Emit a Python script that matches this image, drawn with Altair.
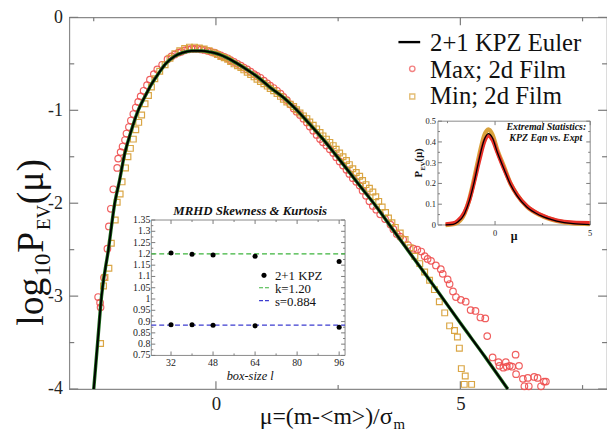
import altair as alt
import pandas as pd

# ================= DATA =================
# main panel: 2+1 KPZ Euler curve (x = mu, y = log10 P)
kpz_curve = [(-2.50, -4.0), (-2.42, -3.5), (-2.34, -3.0), (-2.20, -2.5), (-2.07, -2.0),
             (-1.97, -1.75), (-1.88, -1.5), (-1.75, -1.25), (-1.59, -1.0), (-1.45, -0.85),
             (-1.32, -0.72), (-1.17, -0.60), (-1.03, -0.50), (-0.85, -0.42), (-0.68, -0.38),
             (-0.50, -0.36), (-0.30, -0.36), (-0.10, -0.375), (0.05, -0.395), (0.30, -0.455),
             (0.57, -0.54), (0.85, -0.64), (1.10, -0.75), (1.40, -0.87), (1.65, -0.995),
             (1.92, -1.15), (2.19, -1.31), (2.45, -1.48), (2.72, -1.66), (3.00, -1.85),
             (3.27, -2.03), (3.60, -2.27), (4.00, -2.56), (4.50, -2.92), (5.00, -3.29),
             (5.50, -3.65), (5.97, -4.0)]

# Max; 2d Film (red circles)
max_points = [(-2.41, -3.01), (-2.37, -3.07), (-2.36, -3.12), (-2.29, -2.80), (-2.22, -2.49),
              (-2.19, -2.25), (-2.15, -2.06), (-2.10, -1.85), (-2.02, -1.62), (-2.00, -1.52),
              (-1.95, -1.45), (-1.91, -1.39), (-1.86, -1.32), (-1.83, -1.25), (-1.78, -1.18),
              (-1.74, -1.11), (-1.69, -1.04), (-1.64, -0.97), (-1.59, -0.91), (-1.54, -0.85),
              (-1.48, -0.79), (-1.41, -0.73), (-1.35, -0.67), (-1.27, -0.61), (-1.20, -0.56),
              (-1.10, -0.51), (-0.99, -0.45), (-0.91, -0.42), (-0.84, -0.40), (-0.77, -0.38),
              (-0.71, -0.37), (-0.64, -0.355), (-0.57, -0.345), (-0.50, -0.34), (-0.44, -0.34),
              (-0.37, -0.34), (-0.30, -0.345), (-0.24, -0.35), (-0.17, -0.36), (-0.10, -0.37),
              (-0.03, -0.38), (0.03, -0.395), (0.10, -0.41), (0.17, -0.425), (0.24, -0.44),
              (0.30, -0.46), (0.37, -0.48), (0.44, -0.50), (0.51, -0.52), (0.57, -0.54),
              (0.64, -0.56), (0.71, -0.585), (0.78, -0.61), (0.84, -0.63), (0.91, -0.65),
              (0.98, -0.68), (1.05, -0.71), (1.11, -0.735), (1.18, -0.76), (1.25, -0.79),
              (1.32, -0.82), (1.38, -0.855), (1.45, -0.89), (1.52, -0.935), (1.59, -0.98),
              (1.65, -1.015), (1.72, -1.05), (1.79, -1.09), (1.86, -1.13), (1.92, -1.175),
              (1.99, -1.22), (2.06, -1.265), (2.13, -1.31), (2.19, -1.345), (2.26, -1.38),
              (2.33, -1.42), (2.40, -1.46), (2.46, -1.505), (2.53, -1.55), (2.60, -1.595),
              (2.67, -1.64), (2.73, -1.685), (2.80, -1.73), (2.87, -1.77), (2.94, -1.81),
              (3.00, -1.865), (3.07, -1.92), (3.14, -1.98), (3.21, -2.03), (3.28, -2.07),
              (3.36, -2.12), (3.46, -2.17), (3.57, -2.23), (3.63, -2.28), (3.70, -2.33),
              (3.77, -2.36), (3.83, -2.39), (3.93, -2.45), (4.04, -2.49), (4.12, -2.50),
              (4.20, -2.52), (4.27, -2.57), (4.33, -2.60), (4.40, -2.62), (4.50, -2.67),
              (4.60, -2.71), (4.64, -2.76), (4.74, -2.82), (4.78, -2.87), (4.85, -2.95),
              (4.91, -3.01), (5.01, -3.04), (5.11, -3.06), (5.21, -3.15), (5.31, -3.16),
              (5.41, -3.23), (5.51, -3.24), (5.55, -3.43), (5.66, -3.66), (5.78, -3.71),
              (5.80, -3.75), (5.88, -3.77), (5.93, -3.71), (5.95, -3.76), (6.01, -3.75),
              (6.06, -3.76), (6.13, -3.63), (6.20, -3.75), (6.14, -3.84), (6.28, -3.89),
              (6.31, -3.97), (6.38, -3.88), (6.40, -3.97), (6.51, -3.87), (6.58, -3.88),
              (6.65, -3.97), (6.75, -3.92), (6.71, -3.92)]

# Min; 2d Film (orange squares)
min_points = [(-2.36, -3.51), (-2.30, -2.89), (-2.27, -2.80), (-2.19, -2.70), (-2.14, -2.43),
              (-2.06, -2.18), (-2.02, -1.99), (-1.96, -1.90), (-1.92, -1.77), (-1.85, -1.62),
              (-1.80, -1.50), (-1.75, -1.41), (-1.69, -1.31), (-1.64, -1.21), (-1.58, -1.13),
              (-1.52, -1.05), (-1.45, -0.93), (-1.38, -0.84), (-1.32, -0.75), (-1.25, -0.66),
              (-1.15, -0.58), (-1.04, -0.51), (-0.94, -0.44), (-0.84, -0.39), (-0.74, -0.36),
              (-0.64, -0.335), (-0.54, -0.32), (-0.44, -0.32), (-0.34, -0.33), (-0.24, -0.34),
              (-0.14, -0.36), (-0.04, -0.38), (0.03, -0.40), (0.10, -0.42), (0.17, -0.435),
              (0.24, -0.45), (0.30, -0.475), (0.37, -0.50), (0.44, -0.52), (0.51, -0.54),
              (0.57, -0.565), (0.64, -0.59), (0.71, -0.615), (0.78, -0.64), (0.84, -0.665),
              (0.91, -0.69), (0.98, -0.715), (1.05, -0.74), (1.11, -0.765), (1.18, -0.79),
              (1.25, -0.82), (1.32, -0.85), (1.38, -0.88), (1.45, -0.91), (1.52, -0.935),
              (1.59, -0.96), (1.65, -0.995), (1.72, -1.03), (1.79, -1.06), (1.86, -1.09),
              (1.92, -1.125), (1.99, -1.16), (2.06, -1.20), (2.13, -1.24), (2.19, -1.275),
              (2.26, -1.31), (2.33, -1.345), (2.40, -1.38), (2.46, -1.42), (2.53, -1.46),
              (2.60, -1.50), (2.67, -1.54), (2.73, -1.585), (2.80, -1.63), (2.87, -1.67),
              (2.94, -1.71), (3.00, -1.755), (3.07, -1.80), (3.14, -1.84), (3.21, -1.88),
              (3.27, -1.93), (3.33, -1.98), (3.40, -2.04), (3.47, -2.10), (3.53, -2.16),
              (3.60, -2.21), (3.67, -2.26), (3.77, -2.32), (3.87, -2.39), (3.97, -2.48),
              (4.07, -2.57), (4.17, -2.65), (4.27, -2.74), (4.37, -2.83), (4.47, -2.93),
              (4.57, -3.06), (4.68, -3.18), (4.78, -3.32), (4.88, -3.37), (4.94, -3.44),
              (4.98, -3.56), (5.02, -3.78), (5.10, -3.86), (5.08, -3.95), (5.23, -3.95)]

main_legend_labels = ["2+1 KPZ Euler", "Max; 2d Film", "Min; 2d Film"]
x_major = [0, 5]
x_minor = [-2.5, 2.5, 7.5]
y_major = [-4, -3, -2, -1, 0]
y_minor = [-3.5, -2.5, -1.5, -0.5]

# inset 1: linear P_EV(mu)
ins1_x = [-2.6, -2.2, -1.96, -1.61, -1.35, -1.09, -0.83, -0.57, -0.35, -0.14, 0.12,
          0.47, 0.81, 1.16, 1.68, 2.37, 3.24, 4.10, 4.97]
ins1_kpz = [0.0, 0.003, 0.014, 0.053, 0.117, 0.21, 0.32, 0.41, 0.44, 0.42, 0.35,
            0.27, 0.195, 0.14, 0.085, 0.046, 0.019, 0.006, 0.002]
ins1_max = [0.004, 0.008, 0.02, 0.06, 0.12, 0.21, 0.31, 0.40, 0.43, 0.41, 0.35,
            0.27, 0.20, 0.145, 0.09, 0.05, 0.022, 0.012, 0.01]
ins1_min = [0.0, 0.004, 0.012, 0.055, 0.125, 0.225, 0.335, 0.43, 0.46, 0.435, 0.36,
            0.28, 0.20, 0.145, 0.088, 0.048, 0.02, 0.008, 0.005]
ins1_y_ticks = [0, 0.1, 0.2, 0.3, 0.4, 0.5]
ins1_y_labels = ["0", "0.1", "0.2", "0.3", "0.4", "0.5"]
ins1_y_minor = [0.05, 0.15, 0.25, 0.35, 0.45]
ins1_x_ticks = [0, 5]
ins1_x_labels = ["0", "5"]
ins1_x_minor = [-2.5, 2.5]
ins1_note = ["Extremal Statistics:", "KPZ Eqn vs. Expt"]

# inset 2: skewness & kurtosis vs box size
box_size = [32, 40, 48, 64, 96]
kurtosis = [1.204, 1.198, 1.195, 1.189, 1.166]
skewness = [0.886, 0.886, 0.884, 0.881, 0.875]
kurt_ref = [1.20]
skew_ref = [0.884]
ins2_y_ticks = [0.75, 0.8, 0.85, 0.9, 0.95, 1.0, 1.05, 1.1, 1.15, 1.2, 1.25, 1.3, 1.35]
ins2_y_labels = ["0.75", "0.8", "0.85", "0.9", "0.95", "1", "1.05", "1.1", "1.15", "1.2",
                 "1.25", "1.3", "1.35"]
ins2_y_minor = [0.775, 0.825, 0.875, 0.925, 0.975, 1.025, 1.075, 1.125, 1.175, 1.225,
                1.275, 1.325]
ins2_x_ticks = [32, 48, 64, 80, 96]
ins2_x_minor = [40, 56, 72, 88]
ins2_legend_labels = ["2+1 KPZ", "k=1.20", "s=0.884"]

# ================= STYLE / LAYOUT =================
FONT = "Liberation Serif, Times New Roman, DejaVu Serif, serif"
W, H = 544, 376
TICK = "#7a7a7a"
RED = "#ef4f4f"
ORANGE = "#d9a23c"
one = pd.DataFrame({"a": [0]})

xs = alt.Scale(domain=[-3, 8], nice=False, zero=False)
ys = alt.Scale(domain=[-4, 0], nice=False, zero=False)
ax_x = alt.Axis(values=x_major, ticks=False, domain=False, grid=False, labelFont=FONT,
                labelFontSize=19, labelColor="#222", labelPadding=6, title=None,
                labelExpr="'' + datum.value")
ax_y = alt.Axis(values=y_major, ticks=False, domain=False, grid=False, labelFont=FONT,
                labelFontSize=18, labelColor="#222", labelPadding=7, title=None,
                labelExpr="'' + datum.value")


def mx(f="x"):
    return alt.X(f"{f}:Q", scale=xs, axis=ax_x)


def my(f="y"):
    return alt.Y(f"{f}:Q", scale=ys, axis=ax_y)


def txt(text, x, y, size, align="left", angle=0, style="normal", weight="normal",
        baseline="alphabetic", color="#111"):
    kw = dict(text=text, align=align, baseline=baseline, font=FONT, fontSize=size,
              fontStyle=style, fontWeight=weight, color=color)
    if angle:
        kw["angle"] = angle
    return alt.Chart(one).mark_text(**kw).encode(x=alt.value(x), y=alt.value(y))


# ---------------- main panel ----------------
df_curve = pd.DataFrame(kpz_curve, columns=["x", "y"])
df_max = pd.DataFrame(max_points, columns=["x", "y"])
df_min = pd.DataFrame(min_points, columns=["x", "y"])

main_layers = []
# ticks (inward, on all four sides)
for vals, ln in ((x_major, 8), (x_minor, 4)):
    d = pd.DataFrame({"x": vals})
    main_layers.append(alt.Chart(d).mark_rule(color=TICK, strokeWidth=1.2).encode(
        x=mx(), y=alt.value(H), y2=alt.value(H - ln)))
    main_layers.append(alt.Chart(d).mark_rule(color=TICK, strokeWidth=1.2).encode(
        x=mx(), y=alt.value(0), y2=alt.value(ln)))
for vals, ln in ((y_major, 9), (y_minor, 5)):
    d = pd.DataFrame({"y": vals})
    main_layers.append(alt.Chart(d).mark_rule(color=TICK, strokeWidth=1.2).encode(
        y=my(), x=alt.value(0), x2=alt.value(ln)))
    main_layers.append(alt.Chart(d).mark_rule(color=TICK, strokeWidth=1.2).encode(
        y=my(), x=alt.value(W - ln), x2=alt.value(W)))

main_layers.append(alt.Chart(df_max).mark_point(shape="circle", filled=False, size=44,
                                                 strokeWidth=1.2, color=RED, opacity=0.9)
                   .encode(x=mx(), y=my()))
main_layers.append(alt.Chart(df_min).mark_point(shape="square", filled=False, size=34,
                                                 strokeWidth=1.2, color=ORANGE, opacity=0.95)
                   .encode(x=mx(), y=my()))
main_layers.append(alt.Chart(df_curve).mark_line(color="#1d6b1d", strokeWidth=3.4,
                                                  interpolate="monotone")
                   .encode(x=mx(), y=my()))
main_layers.append(alt.Chart(df_curve).mark_line(color="#000000", strokeWidth=1.8,
                                                  interpolate="monotone")
                   .encode(x=mx(), y=my()))

# legend
main_layers.append(alt.Chart(one).mark_rule(color="#000", strokeWidth=2.4).encode(
    x=alt.value(333), x2=alt.value(355), y=alt.value(25)))
main_layers.append(alt.Chart(one).mark_point(shape="circle", filled=False, size=30,
                                              strokeWidth=1.4, color=RED)
                   .encode(x=alt.value(347), y=alt.value(52)))
main_layers.append(alt.Chart(one).mark_point(shape="square", filled=False, size=26,
                                              strokeWidth=1.4, color=ORANGE)
                   .encode(x=alt.value(347), y=alt.value(80)))
for lab, yy in zip(main_legend_labels, (34, 61, 88)):
    main_layers.append(txt(lab, 365, yy, 25))

# y title: log10 P_EV(mu), rotated
main_layers += [
    txt("log", -27, 312, 38, angle=270),
    txt("10", -20, 262, 23, angle=270),
    txt("P", -27, 238, 38, angle=270),
    txt("EV", -20, 215, 19, angle=270),
    txt("(μ)", -27, 189, 38, angle=270),
]
# x title: mu=(m-<m>)/sigma_m
main_layers += [
    txt("μ=(m-<m>)/σ", 327, 411, 24, align="right"),
    txt("m", 328, 416, 15),
]
main = alt.layer(*main_layers)

# ---------------- inset 1 ----------------
I1L, I1R, I1T, I1B = 373, 527, 105, 210
i1x = alt.Scale(domain=[-3, 5], range=[I1L, I1R], nice=False, zero=False)
i1y = alt.Scale(domain=[0, 0.5], range=[I1B, I1T], nice=False, zero=False)


def x1(f="x"):
    return alt.X(f"{f}:Q", scale=i1x, axis=None)


def y1(f="y"):
    return alt.Y(f"{f}:Q", scale=i1y, axis=None)


ins1_layers = [alt.Chart(one).mark_rect(fill="white", stroke="#8a8a8a", strokeWidth=1).encode(
    x=alt.value(I1L), x2=alt.value(I1R), y=alt.value(I1T), y2=alt.value(I1B))]
for vals, ln in ((ins1_y_ticks, 4), (ins1_y_minor, 2)):
    d = pd.DataFrame({"y": vals})
    ins1_layers.append(alt.Chart(d).mark_rule(color=TICK).encode(
        y=y1(), x=alt.value(I1L), x2=alt.value(I1L + ln)))
    ins1_layers.append(alt.Chart(d).mark_rule(color=TICK).encode(
        y=y1(), x=alt.value(I1R - ln), x2=alt.value(I1R)))
for vals, ln in ((ins1_x_ticks, 4), (ins1_x_minor, 2)):
    d = pd.DataFrame({"x": vals})
    ins1_layers.append(alt.Chart(d).mark_rule(color=TICK).encode(
        x=x1(), y=alt.value(I1B), y2=alt.value(I1B - ln)))
    ins1_layers.append(alt.Chart(d).mark_rule(color=TICK).encode(
        x=x1(), y=alt.value(I1T), y2=alt.value(I1T + ln)))
ins1_layers.append(alt.Chart(pd.DataFrame({"y": ins1_y_ticks, "lab": ins1_y_labels}))
                   .mark_text(align="right", baseline="middle", font=FONT, fontSize=8.5,
                              color="#222")
                   .encode(y=y1(), x=alt.value(I1L - 2), text="lab:N"))
ins1_layers.append(alt.Chart(pd.DataFrame({"x": ins1_x_ticks, "lab": ins1_x_labels}))
                   .mark_text(align="center", baseline="top", font=FONT, fontSize=8.5,
                              color="#222")
                   .encode(x=x1(), y=alt.value(I1B + 4), text="lab:N"))
df_i1 = pd.DataFrame({"x": ins1_x, "kpz": ins1_kpz, "mx": ins1_max, "mn": ins1_min})
ins1_layers.append(alt.Chart(df_i1).mark_line(color=ORANGE, strokeWidth=4.5,
                                              interpolate="monotone")
                   .encode(x=x1(), y=y1("mn")))
ins1_layers.append(alt.Chart(df_i1).mark_line(color="#e8302a", strokeWidth=4,
                                              interpolate="monotone")
                   .encode(x=x1(), y=y1("mx")))
ins1_layers.append(alt.Chart(df_i1).mark_line(color="#000", strokeWidth=1.3,
                                              interpolate="monotone")
                   .encode(x=x1(), y=y1("kpz")))
ins1_layers += [
    txt(ins1_note[0], I1R - 4, 114, 10, align="right", style="italic", weight="bold"),
    txt(ins1_note[1], I1R - 8, 125, 10, align="right", style="italic", weight="bold"),
    txt("μ", 450, 225, 12, align="center", weight="bold"),
    txt("P", 357, 162, 11, angle=270, weight="bold"),
    txt("EV", 360, 155, 6.5, angle=270, weight="bold"),
    txt("(μ)", 357, 146, 11, angle=270, weight="bold"),
]
ins1 = alt.layer(*ins1_layers)

# ---------------- inset 2 ----------------
I2L, I2R, I2T, I2B = 83, 279, 205, 342
i2x = alt.Scale(domain=[24.5, 98.25], range=[I2L, I2R], nice=False, zero=False)
i2y = alt.Scale(domain=[0.75, 1.35], range=[I2B, I2T], nice=False, zero=False)


def x2(f="x"):
    return alt.X(f"{f}:Q", scale=i2x, axis=None)


def y2(f="y"):
    return alt.Y(f"{f}:Q", scale=i2y, axis=None)


ins2_layers = [alt.Chart(one).mark_rect(fill="white", stroke="#8a8a8a", strokeWidth=1).encode(
    x=alt.value(I2L), x2=alt.value(I2R), y=alt.value(I2T), y2=alt.value(I2B))]
for vals, ln in ((ins2_y_ticks, 4), (ins2_y_minor, 2)):
    d = pd.DataFrame({"y": vals})
    ins2_layers.append(alt.Chart(d).mark_rule(color=TICK).encode(
        y=y2(), x=alt.value(I2L), x2=alt.value(I2L + ln)))
    ins2_layers.append(alt.Chart(d).mark_rule(color=TICK).encode(
        y=y2(), x=alt.value(I2R - ln), x2=alt.value(I2R)))
for vals, ln in ((ins2_x_ticks, 4), (ins2_x_minor, 2)):
    d = pd.DataFrame({"x": vals})
    ins2_layers.append(alt.Chart(d).mark_rule(color=TICK).encode(
        x=x2(), y=alt.value(I2B), y2=alt.value(I2B - ln)))
    ins2_layers.append(alt.Chart(d).mark_rule(color=TICK).encode(
        x=x2(), y=alt.value(I2T), y2=alt.value(I2T + ln)))
ins2_layers.append(alt.Chart(pd.DataFrame({"y": ins2_y_ticks, "lab": ins2_y_labels}))
                   .mark_text(align="right", baseline="middle", font=FONT, fontSize=10,
                              color="#222")
                   .encode(y=y2(), x=alt.value(I2L - 1), text="lab:N"))
ins2_layers.append(alt.Chart(pd.DataFrame({"x": ins2_x_ticks}))
                   .mark_text(align="center", baseline="top", font=FONT, fontSize=10,
                              color="#222")
                   .encode(x=x2(), y=alt.value(I2B + 3), text="x:N"))
ins2_layers.append(alt.Chart(pd.DataFrame({"y": kurt_ref}))
                   .mark_rule(color="#3cb43c", strokeWidth=1.2, strokeDash=[5, 3])
                   .encode(y=y2(), x=alt.value(I2L), x2=alt.value(I2R)))
ins2_layers.append(alt.Chart(pd.DataFrame({"y": skew_ref}))
                   .mark_rule(color="#3c3cd0", strokeWidth=1.2, strokeDash=[5, 3])
                   .encode(y=y2(), x=alt.value(I2L), x2=alt.value(I2R)))
df_i2 = pd.DataFrame({"x": box_size, "k": kurtosis, "s": skewness})
ins2_layers.append(alt.Chart(df_i2).mark_circle(size=26, color="#000", opacity=1)
                   .encode(x=x2(), y=y2("k")))
ins2_layers.append(alt.Chart(df_i2).mark_circle(size=26, color="#000", opacity=1)
                   .encode(x=x2(), y=y2("s")))
# inset 2 legend
ins2_layers.append(alt.Chart(one).mark_circle(size=26, color="#000", opacity=1)
                   .encode(x=alt.value(197), y=alt.value(261)))
ins2_layers.append(alt.Chart(one).mark_rule(color="#3cb43c", strokeWidth=1.2, strokeDash=[4, 2])
                   .encode(x=alt.value(192), x2=alt.value(202), y=alt.value(273.5)))
ins2_layers.append(alt.Chart(one).mark_rule(color="#3c3cd0", strokeWidth=1.2, strokeDash=[4, 2])
                   .encode(x=alt.value(192), x2=alt.value(202), y=alt.value(286.5)))
for lab, yy in zip(ins2_legend_labels, (265.5, 278.5, 291.5)):
    ins2_layers.append(txt(lab, 208, yy, 13))
ins2_layers += [
    txt("MRHD Skewness & Kurtosis", 183, 200, 13, align="center", style="italic", weight="bold"),
    txt("box-size l", 183, 367, 12.5, align="center", style="italic"),
]
ins2 = alt.layer(*ins2_layers)

chart = (alt.layer(main, ins1, ins2)
         .resolve_scale(x="independent", y="independent")
         .properties(width=W, height=H,
                     padding={"left": 62, "top": 7, "right": 0, "bottom": 44},
                     autosize=alt.AutoSizeParams(type="none"),
                     background="white")
         .configure_view(stroke="#8a8a8a", strokeWidth=1.2))

chart.save("out.html", embed_options={"renderer": "svg", "actions": False})
